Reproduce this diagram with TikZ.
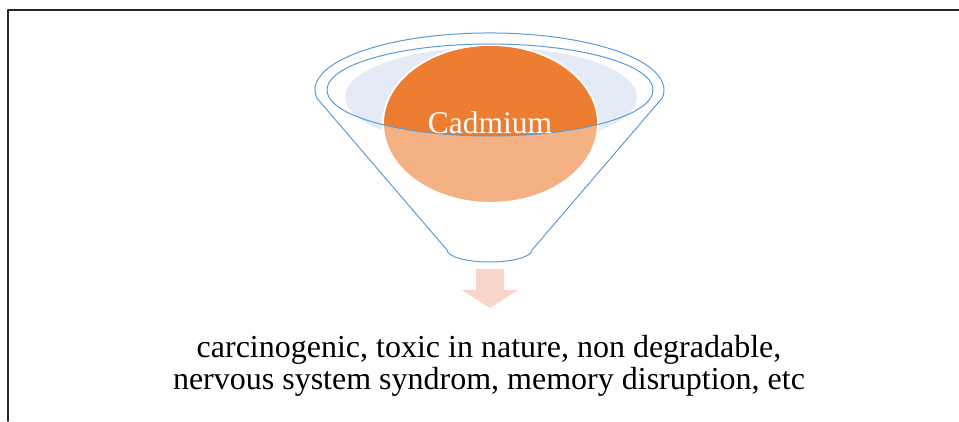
\documentclass[tikz,border=0pt]{standalone}
\usepackage{fontspec}
\setmainfont{Liberation Serif}
\definecolor{rimblue}{HTML}{5B9BD5}
\definecolor{paleblue}{HTML}{E4EBF6}
\definecolor{cdorange}{HTML}{ED7D31}
\definecolor{cdlight}{HTML}{F4B183}
\definecolor{arrowpeach}{HTML}{F8D5C8}
\tikzset{
  rim/.style={draw=rimblue,line width=1pt},
  bigtext/.style={font=\fontsize{32}{32}\selectfont,align=center,inner sep=0pt}
}
\begin{document}
\begin{tikzpicture}[x=1pt,y=1pt,line cap=round,line join=round]
\useasboundingbox (0,0) rectangle (959,421);

% ---- frame (top and left only) ----
\draw[line width=1.6pt,black!85] (959,411) -- (8,411) -- (8,0);

% ---- funnel body ----
\draw[rim] (447,171) -- (316.7,323.1)
  arc[start angle=188,end angle=-8,x radius=174.5,y radius=57]
  -- (532,171)
  arc[start angle=0,end angle=-180,x radius=42.5,y radius=12];

% pale disc inside the rim
\fill[paleblue] (491,324) ellipse[x radius=146,y radius=50];

% ---- cadmium ball ----
\fill[cdlight,draw=white,line width=2pt] (490.5,297) ellipse[x radius=107.5,y radius=79];
\begin{scope}
  \clip (490,331) ellipse[x radius=163,y radius=46];
  \fill[cdorange] (490.5,297) ellipse[x radius=106.5,y radius=78];
\end{scope}

% inner rim
\draw[rim] (490,331) ellipse[x radius=163,y radius=46];

\node[font=\fontsize{31.5}{31.5}\selectfont,text=white,anchor=base,inner sep=0pt] (cadmium) at (490,287.5) {Cadmium};

% ---- down arrow ----
\fill[arrowpeach] (476,152) -- (504,152) -- (504,131) -- (518,131)
  -- (490,113) -- (462,131) -- (476,131) -- cycle;

% ---- effects ----
\node[bigtext] (effects) at (489,55)
  {carcinogenic, toxic in nature, non degradable,\\
   nervous system syndrom, memory disruption, etc};
\end{tikzpicture}
\end{document}
